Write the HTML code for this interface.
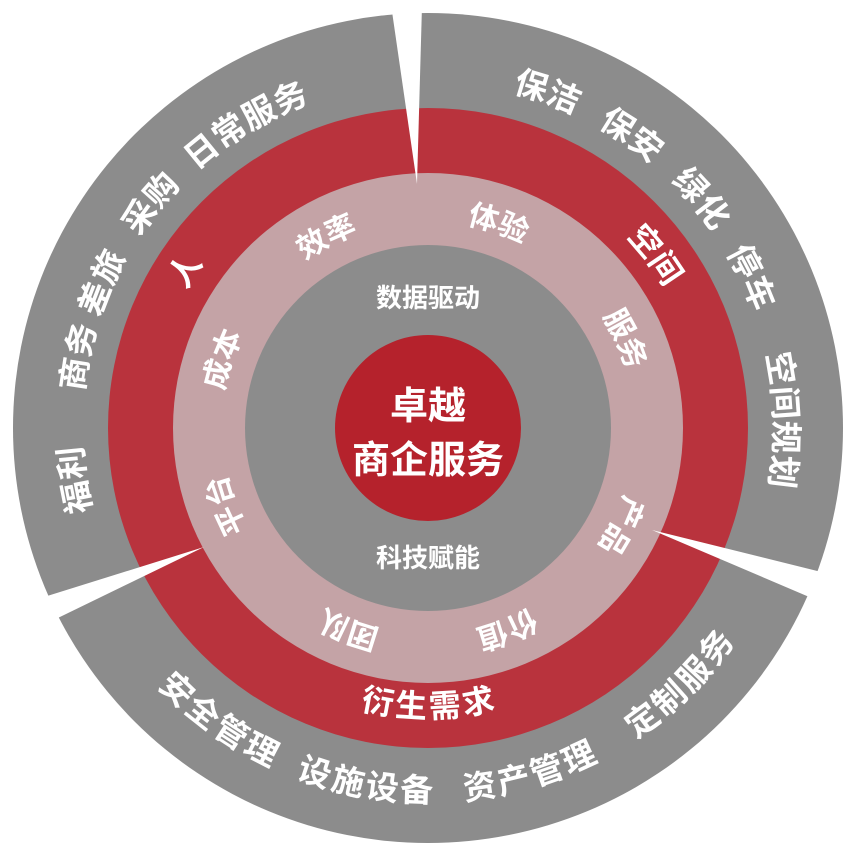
<!DOCTYPE html>
<html><head><meta charset="utf-8"><style>
html,body{margin:0;padding:0;background:#fff}
svg{display:block}
text{font-family:"Liberation Sans","Noto Sans CJK SC",sans-serif;fill:#fff;font-weight:bold}
</style></head><body>
<svg id="s" width="855" height="855" viewBox="0 0 855 855">
<circle cx="428" cy="428" r="415" fill="#8c8c8c"/>
<circle cx="428" cy="428" r="320" fill="#b9333d"/>
<circle cx="428" cy="428" r="255" fill="#c4a3a6"/>
<circle cx="428" cy="428" r="183" fill="#8c8c8c"/>
<circle cx="428" cy="428" r="93" fill="#b5222c"/>
<polygon points="417,184 386,-30 423,-30" fill="#fff"/>
<polygon points="652,530 890,589 875,625" fill="#fff"/>
<polygon points="204,547 -20,617 -8,650" fill="#fff"/>
<g id="t"></g>
<text x="428" y="307" font-size="26" text-anchor="middle">数据驱动</text>
<text x="428" y="567" font-size="26" text-anchor="middle">科技赋能</text>
<text x="428" y="419" font-size="38" text-anchor="middle">卓越</text>
<text x="428" y="473" font-size="38" text-anchor="middle">商企服务</text>
</svg>
<script>
var g=document.getElementById('t'),cx=428,cy=428,NS='http://www.w3.org/2000/svg';
function word(w,ang,r,fs,outward){
  var step=fs*1.05/r*180/Math.PI, n=w.length;
  for(var i=0;i<n;i++){
    var off=(i-(n-1)/2)*step;
    var a=outward?ang+off:ang-off;
    var rad=a*Math.PI/180, x=cx+r*Math.cos(rad), y=cy+r*Math.sin(rad);
    var rot=outward?a+90:a-90;
    var t=document.createElementNS(NS,'text');
    t.setAttribute('x',0);t.setAttribute('y',fs*0.36);
    t.setAttribute('font-size',fs);t.setAttribute('text-anchor','middle');
    t.setAttribute('transform','translate('+x.toFixed(1)+','+y.toFixed(1)+') rotate('+rot.toFixed(1)+')');
    t.textContent=w[i];g.appendChild(t);
  }
}
[['福利',171.6],['商务',191.5],['差旅',204],['采购',219],['日常服务',239]].forEach(function(p){word(p[0],p[1],358,33,true)});
[['保洁',289.6],['保安',304.8],['绿化',320],['停车',335],['空间规划',358.7]].forEach(function(p){word(p[0],p[1],358,33,true)});
[['安全管理',125.6],['设施设备',100],['资产管理',73.6],['定制服务',45.5]].forEach(function(p){word(p[0],p[1],362,33,false)});
word('人',213,290,32,true);word('空间',322.7,287,32,true);word('衍生需求',90,278,32,false);
[['成本',198.5],['效率',242],['体验',289],['服务',335.6],['产品',26.8],['价值',68.6],['团队',111.6],['平台',159]].forEach(function(p){word(p[0],p[1],218,30,true)});
</script>
</body></html>
